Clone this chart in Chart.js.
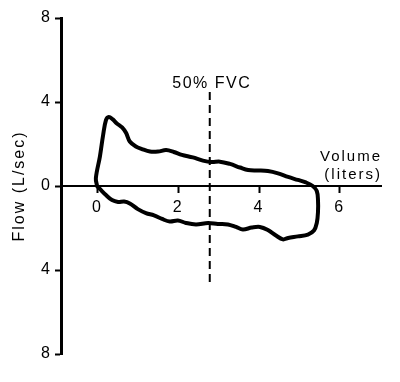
<!DOCTYPE html>
<html>
<head>
<meta charset="utf-8">
<script src="https://cdn.jsdelivr.net/npm/chart.js@4"></script>
<style>
  body { margin: 0; background: #fff; }
  canvas { display: block; }
</style>
</head>
<body>
<canvas id="myChart" width="400" height="382"></canvas>
<script>
// flow-volume loop (liters, L/sec)
var loopVolume = [-0.01, -0.04, 0.06, 0.14, 0.21, 0.28, 0.38, 0.48, 0.61, 0.71,
  0.80, 0.95, 1.10, 1.30, 1.50, 1.70, 1.89, 2.09, 2.36, 2.61,
  2.83, 3.03, 3.28, 3.53, 3.73, 3.97, 4.22, 4.47, 4.72, 4.96,
  5.16, 5.33, 5.43, 5.46, 5.46, 5.43, 5.36, 5.21, 4.96, 4.72,
  4.59, 4.42, 4.22, 4.02, 3.82, 3.60, 3.43, 3.23, 2.98, 2.74,
  2.44, 2.19, 1.99, 1.79, 1.60, 1.40, 1.20, 1.00, 0.80, 0.66,
  0.51, 0.36, 0.21, 0.06, -0.01];
var loopFlow = [0, 0.37, 1.40, 2.43, 3.14, 3.29, 3.17, 2.98, 2.79, 2.52,
  2.12, 1.88, 1.76, 1.64, 1.64, 1.71, 1.62, 1.48, 1.36, 1.21,
  1.14, 1.16, 1.05, 0.88, 0.76, 0.74, 0.71, 0.60, 0.43, 0.29,
  0.17, 0, -0.24, -0.67, -1.24, -1.76, -2.12, -2.31, -2.40, -2.48,
  -2.54, -2.36, -2.10, -1.95, -1.98, -2.07, -1.95, -1.83, -1.81, -1.76,
  -1.83, -1.76, -1.64, -1.69, -1.57, -1.40, -1.29, -1.10, -0.83, -0.74,
  -0.76, -0.67, -0.43, -0.14, 0];

// 50% FVC marker
var fvcVolume = [2.78, 2.78];
var fvcFlow = [4.48, -4.57];

var xTicks = [0, 2, 4, 6];
var yTicks = [-8, -4, 0, 4, 8];

var FONT = '"Liberation Sans", Arial, Helvetica, sans-serif';

function toPoints(xs, ys) {
  var pts = [];
  for (var i = 0; i < xs.length; i++) {
    pts.push({x: xs[i], y: ys[i]});
  }
  return pts;
}

// spacing for the wide lettering, plus the free labels
var labelsPlugin = {
  id: 'labels',
  beforeDraw: function(chart) {
    chart.ctx.letterSpacing = '2px';
  },
  afterDraw: function(chart) {
    var ctx = chart.ctx;
    var xs = chart.scales.x, ys = chart.scales.y;
    ctx.save();
    ctx.fillStyle = '#000';
    ctx.font = '16px ' + FONT;
    ctx.letterSpacing = '1.5px';
    ctx.textAlign = 'center';
    ctx.textBaseline = 'alphabetic';
    ctx.fillText('50% FVC', xs.getPixelForValue(fvcVolume[0]) + 2, ys.getPixelForValue(fvcFlow[0]) - 4);

    ctx.font = '15px ' + FONT;
    ctx.letterSpacing = '2px';
    ctx.textAlign = 'right';
    var zero = ys.getPixelForValue(0);
    ctx.fillText('Volume', chart.chartArea.right + 1, zero - 25);
    ctx.fillText('(liters)', chart.chartArea.right + 1, zero - 7.5);
    ctx.restore();
  }
};

var ctx = document.getElementById('myChart').getContext('2d');

var myChart = new Chart(ctx, {
  type: 'scatter',
  data: {
    datasets: [{
      data: toPoints(loopVolume, loopFlow),
      showLine: true,
      borderColor: '#000',
      borderWidth: 4,
      tension: 0.35,
      pointRadius: 0,
      borderCapStyle: 'round',
      borderJoinStyle: 'round',
      fill: false
    }, {
      data: toPoints(fvcVolume, fvcFlow),
      showLine: true,
      borderColor: '#000',
      borderWidth: 2,
      borderDash: [8, 5],
      pointRadius: 0,
      fill: false
    }]
  },
  options: {
    responsive: false,
    animation: false,
    devicePixelRatio: 1,
    layout: {
      padding: {left: 0, top: 18, right: 19, bottom: 28}
    },
    plugins: {
      legend: {display: false},
      tooltip: {enabled: false}
    },
    scales: {
      x: {
        type: 'linear',
        position: {y: 0},
        min: -0.903,
        max: 7.02,
        afterBuildTicks: function(scale) {
          scale.ticks = xTicks.map(function(v) { return {value: v}; });
        },
        grid: {
          drawOnChartArea: false,
          drawTicks: true,
          tickLength: 6,
          tickWidth: 2,
          tickColor: '#000'
        },
        border: {display: true, color: '#000', width: 2},
        ticks: {
          color: '#000',
          padding: 6,
          maxRotation: 0,
          font: {family: FONT, size: 16}
        }
      },
      y: {
        type: 'linear',
        position: 'left',
        min: -8,
        max: 8,
        afterBuildTicks: function(scale) {
          scale.ticks = yTicks.map(function(v) { return {value: v}; });
        },
        afterFit: function(scale) {
          scale.width = 61;
        },
        grid: {
          drawOnChartArea: false,
          drawTicks: true,
          tickLength: 6,
          tickWidth: 2,
          tickColor: '#000'
        },
        border: {display: true, color: '#000', width: 3},
        ticks: {
          color: '#000',
          padding: 3,
          font: {family: FONT, size: 16},
          callback: function(v) { return Math.abs(v); }
        },
        title: {
          display: true,
          text: 'Flow (L/sec)',
          color: '#000',
          font: {family: FONT, size: 16},
          padding: {top: 10, bottom: 0}
        }
      }
    }
  },
  plugins: [labelsPlugin]
});
</script>
</body>
</html>
